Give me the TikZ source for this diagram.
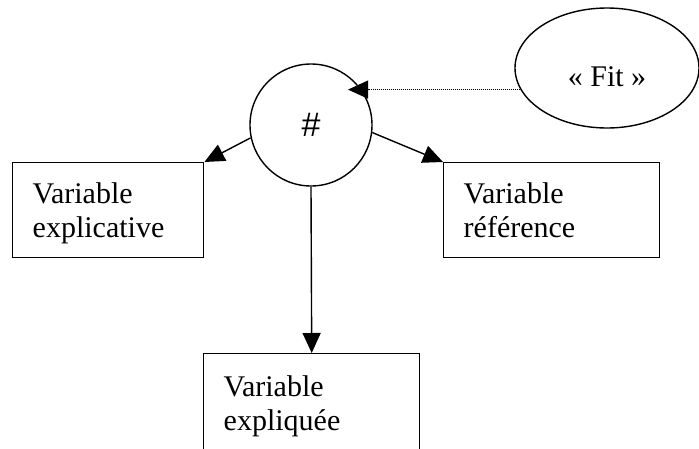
\documentclass[tikz,border=0pt]{standalone}
\usepackage{fontspec}
\setmainfont{Liberation Serif}
\newfontfamily\hubfont{Liberation Sans}
\usetikzlibrary{arrows.meta,shapes.geometric}

\begin{document}
\begin{tikzpicture}
			[x=1pt,y=-1pt,line width=1.4pt,font=\fontsize{30}{34}\selectfont,
			>={Triangle[length=20pt,width=18pt]},
			varbox/.style={draw,rectangle,anchor=north west,align=left,inner xsep=20pt,inner ysep=0pt,
				minimum height=95pt,text height=27pt,text depth=41pt},
			hub/.style={draw,circle,minimum size=122pt,inner sep=0pt,font=\hubfont\fontsize{34}{38}\selectfont},
			fitnode/.style={draw,ellipse,minimum width=184pt,minimum height=120pt,inner sep=0pt,text height=36pt,text depth=0pt},
			dotlink/.style={dash pattern=on 1pt off 1pt,line width=1pt}]
			\useasboundingbox (0,0) rectangle (699,448);
			\node[hub] (hub) at (311,125) {\#};
			\node[fitnode] (fit) at (607,68) {« Fit »};
			\node[varbox,text width=151pt] (expl) at (12,162) {Variable\\explicative};
			\node[varbox,text width=176pt] (ref) at (443,162) {Variable\\référence};
			\node[varbox,text width=176pt,minimum height=100pt] (expd) at (203,353) {Variable\\expliquée};
			\coordinate (hubin) at (348,89);
			
			\foreach \from/\to in {hub.192/expl.north east,hub.353/ref.north west,hub.south/expd.north}
			\draw[->] (\from) -- (\to);
			\draw[->,dotlink] (fit.194) -- (hubin |- fit.194);
			\end{tikzpicture}
\end{document}
